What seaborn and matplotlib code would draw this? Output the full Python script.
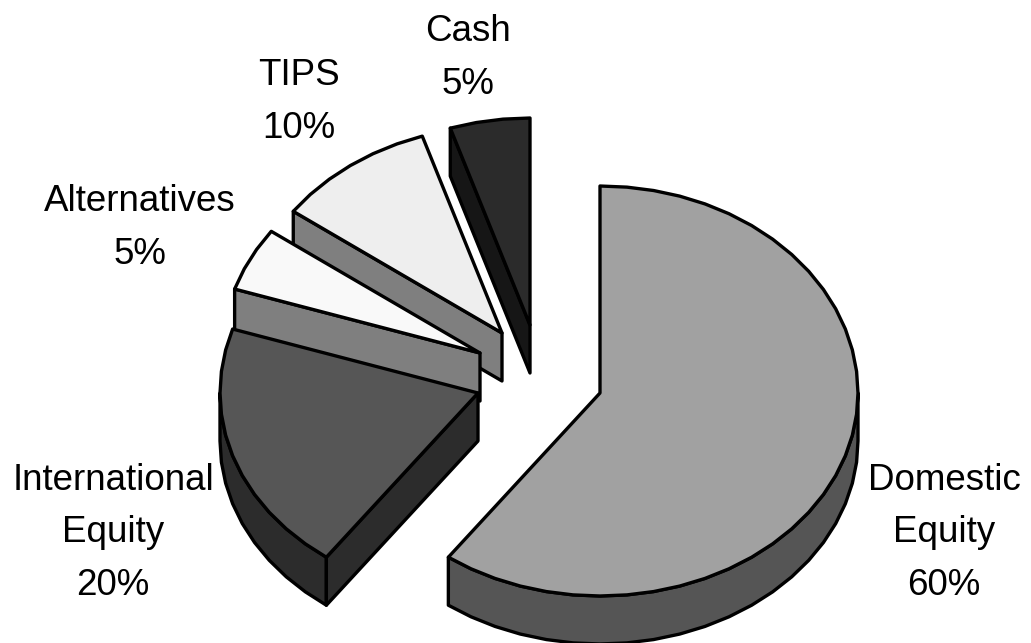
"""Asset allocation as an exploded 3D-look pie."""
import matplotlib
matplotlib.use("Agg")
import matplotlib.pyplot as plt
import numpy as np
import seaborn as sns

CATEGORIES = ["Domestic\nEquity", "International\nEquity", "Alternatives", "TIPS", "Cash"]
SHARES = [60, 20, 5, 10, 5]
TOP_COLORS = ["#a1a1a1", "#565656", "#f9f9f9", "#eeeeee", "#2b2b2b"]
SIDE_COLORS = ["#555555", "#2c2c2c", "#7f7f7f", "#7f7f7f", "#161616"]

# layout, in pixels of the output
APEXES = [(600, 393), (478, 393), (480, 353), (502, 333), (530, 325)]
LABEL_POS = [(944, 533), (113, 533), (140, 228), (299, 102), (468, 58)]
RX, RY_BACK, RY_FRONT, DEPTH = 258, 207, 203, 48
EDGE = dict(edgecolor="black", linewidth=2.4, joinstyle="round")


def rim(apex, a0, a1, step=6):
    """Points on the elliptical rim, angles clockwise from 12 o'clock."""
    n = max(2, int(round((a1 - a0) / step)) + 1)
    t = np.radians(np.linspace(a0, a1, n))
    ry = np.where(np.cos(t) > 0, RY_BACK, RY_FRONT)
    return np.column_stack([apex[0] + RX * np.sin(t), apex[1] - ry * np.cos(t)])


def draw_slice(ax, apex, a0, a1, top, side):
    drop = np.array([0, DEPTH])
    # outer wall, only the part turned towards the viewer
    lo, hi = max(a0, 90), min(a1, 270)
    if hi > lo:
        arc = rim(apex, lo, hi)
        ax.fill(*np.vstack([arc, (arc + drop)[::-1]]).T, facecolor=side, **EDGE)
    # cut face at the start angle
    if np.cos(np.radians(a0 - 90)) < -1e-6:
        p = rim(apex, a0, a0 + 1, step=1)[0]
        a = np.array(apex)
        ax.fill(*np.array([a, p, p + drop, a + drop]).T, facecolor=side, **EDGE)
    pts = np.vstack([[apex], rim(apex, a0, a1)])
    ax.fill(*pts.T, facecolor=top, **EDGE)


def main():
    sns.set_theme(style="white")
    plt.rcParams["font.family"] = ["Liberation Sans", "DejaVu Sans"]

    fig, ax = plt.subplots(figsize=(10.31, 6.43), dpi=100)
    fig.subplots_adjust(0, 0, 1, 1)
    ax.set_xlim(0, 1031)
    ax.set_ylim(643, 0)
    ax.set_axis_off()

    ends = np.cumsum(SHARES) * 3.6
    starts = np.concatenate([[0], ends[:-1]])
    # back slices first so the front ones overlap them
    for i in range(len(SHARES) - 1, -1, -1):
        draw_slice(ax, APEXES[i], starts[i], ends[i], TOP_COLORS[i], SIDE_COLORS[i])

    for cat, share, (x, y) in zip(CATEGORIES, SHARES, LABEL_POS):
        ax.text(x, y, f"{cat}\n{share}%", ha="center", va="center",
                fontsize=26.5, color="black", linespacing=1.63)

    sns.despine(fig=fig, left=True, bottom=True)
    fig.savefig("out.png", dpi=100)


if __name__ == "__main__":
    main()
